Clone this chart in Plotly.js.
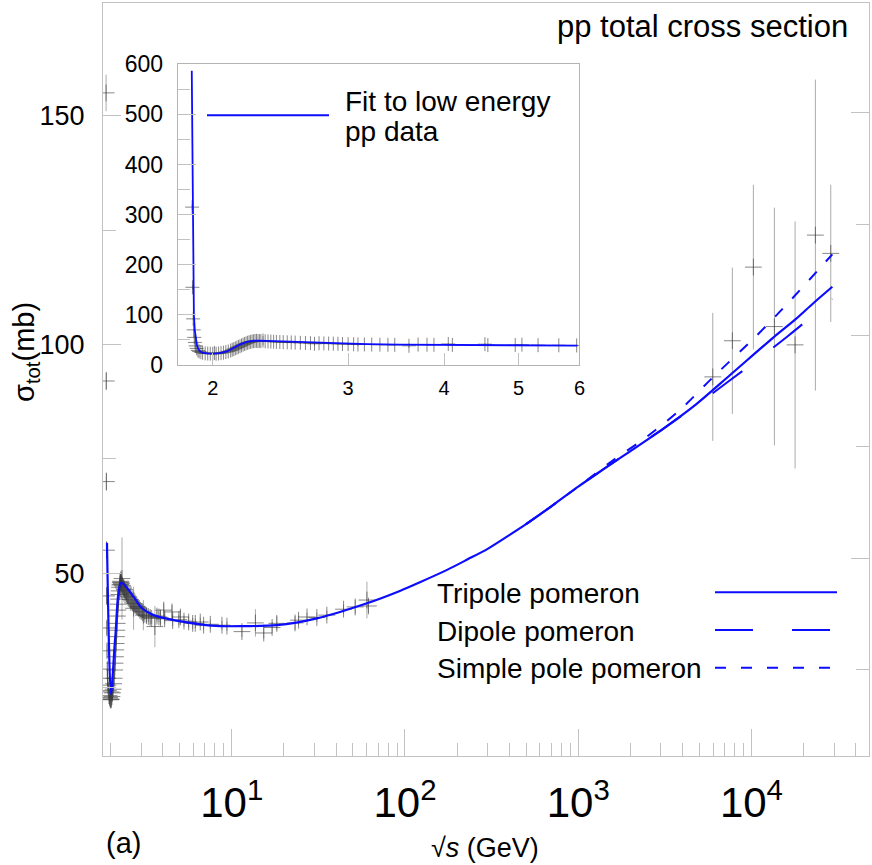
<!DOCTYPE html>
<html>
<head>
<meta charset="utf-8">
<script src="https://cdn.plot.ly/plotly-3.0.1.min.js"></script>
<style>
  body { margin: 0; background: #fff; }
  #chart { width: 872px; height: 865px; }
</style>
</head>
<body>
<div id="chart"></div>
<script>
// pp total cross section data, sqrt(s) in GeV, sigma in mb
// low energy (threshold, resonance region, up to 6 GeV)
var lowS = [
  1.880, 1.882, 1.886, 1.889, 1.892, 1.896, 1.900, 1.906, 1.913, 1.920,
  1.930, 1.940, 1.955, 1.970, 1.985, 2.000, 2.010, 2.020, 2.035, 2.050,
  2.065, 2.080, 2.095, 2.110, 2.120, 2.130, 2.140, 2.150, 2.160, 2.170,
  2.180, 2.190, 2.200, 2.210, 2.220, 2.230, 2.240, 2.250, 2.260, 2.270,
  2.280, 2.290, 2.300, 2.310, 2.325, 2.340, 2.360, 2.380, 2.400, 2.420,
  2.445, 2.470, 2.500, 2.530, 2.560, 2.600, 2.640, 2.680, 2.713, 2.750,
  2.790, 2.830, 2.870, 2.910, 2.950, 3.000, 3.050, 3.090, 3.150, 3.220,
  3.300, 3.380, 3.450, 3.600, 3.700, 3.800, 3.880, 4.050, 4.100, 4.520,
  4.560, 4.950, 5.050, 5.300, 5.640, 5.950
];
var lowSigma = [
  315, 155, 92, 70, 55, 45, 38, 33, 29, 27,
  25.5, 24.3, 23.2, 22.8, 22.5, 22.3, 24.0, 22.4, 23.0, 23.8,
  24.6, 25.8, 27.0, 28.8, 30.3, 31.7, 33.2, 34.6, 36.1, 37.5,
  39.0, 40.6, 41.9, 43.2, 44.3, 45.3, 46.1, 46.9, 47.4, 47.9,
  48.2, 47.5, 48.0, 47.7, 48.8, 47.3, 47.0, 46.7, 46.4, 46.1,
  45.8, 45.5, 45.2, 44.9, 44.6, 44.2, 43.9, 43.5, 42.3, 43.3,
  43.0, 42.7, 42.5, 42.2, 41.9, 41.6, 41.3, 40.8, 41.0, 40.7,
  40.5, 40.3, 40.1, 38.3, 40.6, 40.4, 40.2, 41.9, 40.0, 41.5,
  39.6, 39.8, 40.4, 39.5, 39.3, 39.0
];
var lowErr = [
  6, 4, 2, 2, 2, 2, 1.5, 1.5, 1.5, 1.5,
  1.2, 1.2, 1.2, 1.5, 1.2, 2, 1.2, 1.5, 1.2, 1.2,
  1.2, 1.2, 1.2, 1.2, 1.2, 1.2, 1.2, 1.2, 1.2, 1.2,
  1.2, 1.2, 1.5, 1.2, 1.5, 1.2, 2, 1.5, 2.5, 1.5,
  2, 3, 1.5, 1.5, 9, 1.5, 1.5, 2, 1.5, 1.5,
  1.5, 1.5, 2, 1.5, 1.5, 2.5, 1.5, 1.5, 4.7, 1.5,
  1.5, 1.5, 1.2, 1.5, 1.2, 1.5, 1.2, 3.3, 1.2, 1.5,
  1.2, 1.5, 1.2, 4.5, 1.2, 1.2, 1.5, 1.5, 1.2, 1.5,
  1.2, 1.2, 1.5, 1.2, 1.2, 1.2
];

// intermediate energies up to ISR
var midS = [6.16, 6.58, 6.88, 7.52, 8.78, 9.38, 11.45, 13.7, 15.3, 17.1,
  18.2, 23.2, 24.3, 27.2, 31.0, 35.4, 44.2, 51.6, 60.3, 61.5];
var midSigma = [39.0, 39.3, 38.6, 38.8, 38.6, 38.4, 37.2, 39.1, 36.9, 38.1,
  39.0, 39.1, 39.7, 40.4, 40.3, 40.8, 42.1, 42.6, 44.1, 42.8];
var midErr = [1, 1, 1, 1, 1, 1, 1.2, 3, 1.2, 1.2,
  1.5, 1.5, 1, 1, 1, 1, 1, 1.5, 4, 1.5];

// highest energies
var highS = [5980, 7760, 10260, 13570, 17860, 23400, 28700];
var highSigma = [92.9, 100.8, 116.9, 103.9, 99.9, 123.9, 119.9];
var highErr = [14, 16, 18, 26, 27, 34, 15];

// fit to low energy pp data (inset)
var fitLowS = [1.878, 1.881, 1.884, 1.887, 1.890, 1.895, 1.900, 1.907, 1.915, 1.925,
  1.940, 1.965, 2.003, 2.040, 2.086, 2.130, 2.171, 2.215, 2.259, 2.300,
  2.448, 2.600, 2.873, 3.176, 3.500, 3.879, 4.500, 5.200, 5.965];
var fitLowSigma = [587, 400, 250, 150, 100, 70, 52, 40, 32, 27,
  24.5, 23, 22.5, 23.5, 27, 34, 41, 46, 48.3, 48.5,
  47, 45, 43, 41.5, 40.5, 40, 39.3, 38.9, 38.6];

// pomeron fits (main panel)
var tripoleS = [1.905, 2.009, 2.127, 2.304, 2.713, 3.033, 3.538, 4.615, 6.58, 8.58,
  11.7, 18.2, 31.0, 60.3, 93.4, 122, 175, 230, 300, 400, 500, 700,
  1000, 1337, 3105, 4830, 7530, 13370, 17860, 22750, 29310];
var tripoleSigma = [56.6, 23.5, 36.1, 47.9, 44.8, 42.3, 40.8, 39.7, 38.8, 38.4,
  38.4, 38.6, 40.1, 43.4, 46.1, 48.0, 50.7, 53.0, 55.3, 58.3, 60.7, 64.6,
  68.9, 72.2, 81.6, 87.0, 93.3, 101.5, 105.4, 109.0, 112.6];
var dipoleS = [500, 700, 1000, 1337, 3105, 4940, 7194, 11220, 16330, 24320, 29310];
var dipoleSigma = [60.7, 64.6, 68.9, 72.2, 81.6, 87.0, 91.6, 97.1, 101.9, 107.3, 109.9];
var simpleS = [500, 700, 1000, 1596, 2489, 3873, 6026, 10640, 17060, 26850, 29310];
var simpleSigma = [60.7, 64.6, 68.9, 74.7, 79.8, 85.7, 92.9, 101.8, 109.9, 118.1, 119.7];

var blue = "rgb(12,12,255)";
var grid = "#c2c2c2";
var crossCol = "rgba(55,55,55,0.6)";
var sans = "Liberation Sans, Arial, sans-serif";

var allS = lowS.concat(midS, highS);
var allSigma = lowSigma.concat(midSigma, highSigma);
var allErr = lowErr.concat(midErr, highErr);

function dataTrace(xa, ya, size) {
  return {
    x: allS, y: allSigma, xaxis: xa, yaxis: ya,
    type: "scatter", mode: "markers", hoverinfo: "skip",
    marker: { symbol: "cross-thin", size: size, color: crossCol,
      line: { width: 1, color: crossCol } },
    error_y: { type: "data", array: allErr, width: 0, thickness: 1,
      color: "rgba(90,90,90,0.5)" }
  };
}

var traces = [
  dataTrace("x", "y", 12),
  { x: tripoleS, y: tripoleSigma, xaxis: "x", yaxis: "y", mode: "lines",
    line: { color: blue, width: 2.2, shape: "spline", smoothing: 0.8 } },
  { x: dipoleS, y: dipoleSigma, xaxis: "x", yaxis: "y", mode: "lines",
    line: { color: blue, width: 2, dash: "37px,39px", shape: "spline", smoothing: 0.8 } },
  { x: simpleS, y: simpleSigma, xaxis: "x", yaxis: "y", mode: "lines",
    line: { color: blue, width: 2, dash: "11px,14px", shape: "spline", smoothing: 0.8 } },
  // right side tick marks only
  { x: [], y: [], xaxis: "x", yaxis: "y3", mode: "lines", hoverinfo: "skip" },
  dataTrace("x2", "y2", 10),
  { x: fitLowS, y: fitLowSigma, xaxis: "x2", yaxis: "y2", mode: "lines",
    line: { color: blue, width: 1.8 } }
];

// paper coords: plot area is 766 x 753 px starting at (103, 3)
function px(v) { return (v - 103) / 766; }
function py(v) { return (756 - v) / 753; }

var layout = {
  width: 872, height: 865,
  margin: { l: 103, r: 3, t: 3, b: 109 },
  paper_bgcolor: "#fff", plot_bgcolor: "#fff",
  showlegend: false,
  font: { family: sans, color: "#000" },
  xaxis: {
    type: "log", range: [0.2568, 4.6786], domain: [0, 1], anchor: "y",
    showline: true, mirror: true, linecolor: grid, linewidth: 1,
    showgrid: false, zeroline: false,
    ticks: "inside", ticklen: 27, tickcolor: grid, tickwidth: 1,
    tickvals: [10, 100, 1000, 10000],
    ticktext: ["10<sup>1</sup>", "10<sup>2</sup>", "10<sup>3</sup>", "10<sup>4</sup>"],
    tickfont: { family: sans, size: 42, color: "#000" },
    ticklabelstandoff: 10,
    minor: { ticks: "inside", ticklen: 13, tickcolor: grid, dtick: "D1", showgrid: false }
  },
  yaxis: {
    range: [10, 174.65], domain: [0, 1], anchor: "x",
    showline: true, mirror: true, linecolor: grid, linewidth: 1,
    showgrid: false, zeroline: false,
    ticks: "inside", ticklen: 18, tickcolor: grid, tick0: 0, dtick: 50,
    tickfont: { family: sans, size: 27, color: "#000" },
    ticklabelstandoff: 12,
    minor: { ticks: "inside", ticklen: 13, tickcolor: grid, tick0: 0, dtick: 25, showgrid: false }
  },
  yaxis3: {
    overlaying: "y", side: "right", anchor: "x",
    range: [5.63, 174.62], showticklabels: false,
    showline: false, showgrid: false, zeroline: false,
    ticks: "inside", ticklen: 18, tickcolor: grid, tick0: 0, dtick: 50,
    minor: { ticks: "inside", ticklen: 13, tickcolor: grid, tick0: 0, dtick: 25, showgrid: false }
  },
  xaxis2: {
    type: "log", range: [Math.log10(1.8), Math.log10(6)],
    domain: [0.0974, 0.622], anchor: "y2",
    showline: true, mirror: true, linecolor: "#b4b4b4", linewidth: 1,
    showgrid: false, zeroline: false,
    ticks: "inside", ticklen: 12, tickcolor: grid,
    tickvals: [2, 3, 4, 5, 6], ticktext: ["2", "3", "4", "5", "6"],
    tickfont: { family: sans, size: 20, color: "#000" },
    ticklabelstandoff: 5
  },
  yaxis2: {
    range: [0, 600], domain: [0.5193, 0.9186], anchor: "x2",
    showline: true, mirror: true, linecolor: "#b4b4b4", linewidth: 1,
    showgrid: false, zeroline: false,
    ticks: "inside", ticklen: 18, tickcolor: grid, tick0: 0, dtick: 100,
    tickfont: { family: sans, size: 23, color: "#000" },
    ticklabelstandoff: 9,
    minor: { ticks: "inside", ticklen: 12, tickcolor: grid, tick0: 0, dtick: 50, showgrid: false }
  },
  annotations: [
    { text: "pp total cross section", xref: "paper", yref: "paper",
      x: px(850), y: py(27), xanchor: "right", yanchor: "middle",
      showarrow: false, font: { family: sans, size: 31 } },
    { text: "(a)", xref: "paper", yref: "paper", x: px(104), y: py(843),
      xanchor: "left", yanchor: "middle", showarrow: false,
      font: { family: sans, size: 29 } },
    { text: "\u221A<i>s</i> (GeV)", xref: "paper", yref: "paper",
      x: px(485), y: py(848), xanchor: "center", yanchor: "middle",
      showarrow: false, font: { family: sans, size: 27 } },
    { text: "\u03C3<sub>tot</sub>(mb)", xref: "paper", yref: "paper",
      x: px(26), y: py(352), textangle: -90, xanchor: "center", yanchor: "middle",
      showarrow: false, font: { family: sans, size: 29 } },
    { text: "Tripole pomeron", xref: "paper", yref: "paper", x: px(435), y: py(593.3),
      xanchor: "left", yanchor: "middle", showarrow: false, font: { family: sans, size: 28 } },
    { text: "Dipole pomeron", xref: "paper", yref: "paper", x: px(435), y: py(631.7),
      xanchor: "left", yanchor: "middle", showarrow: false, font: { family: sans, size: 28 } },
    { text: "Simple pole pomeron", xref: "paper", yref: "paper", x: px(435), y: py(668.3),
      xanchor: "left", yanchor: "middle", showarrow: false, font: { family: sans, size: 28 } },
    { text: "Fit to low energy", xref: "paper", yref: "paper", x: px(343), y: py(101.7),
      xanchor: "left", yanchor: "middle", showarrow: false, font: { family: sans, size: 28 } },
    { text: "pp data", xref: "paper", yref: "paper", x: px(343), y: py(131.7),
      xanchor: "left", yanchor: "middle", showarrow: false, font: { family: sans, size: 28 } }
  ],
  shapes: [
    { type: "line", xref: "paper", yref: "paper", x0: px(715), x1: px(837), y0: py(592.3), y1: py(592.3),
      line: { color: blue, width: 2 } },
    { type: "line", xref: "paper", yref: "paper", x0: px(715), x1: px(830), y0: py(630), y1: py(630),
      line: { color: blue, width: 2, dash: "38px,39px" } },
    { type: "line", xref: "paper", yref: "paper", x0: px(715), x1: px(830), y0: py(667.7), y1: py(667.7),
      line: { color: blue, width: 2, dash: "11px,15px" } },
    { type: "line", xref: "paper", yref: "paper", x0: px(207), x1: px(329), y0: py(115.3), y1: py(115.3),
      line: { color: blue, width: 2 } }
  ]
};

Plotly.newPlot("chart", traces, layout, { staticPlot: true });
</script>
</body>
</html>
